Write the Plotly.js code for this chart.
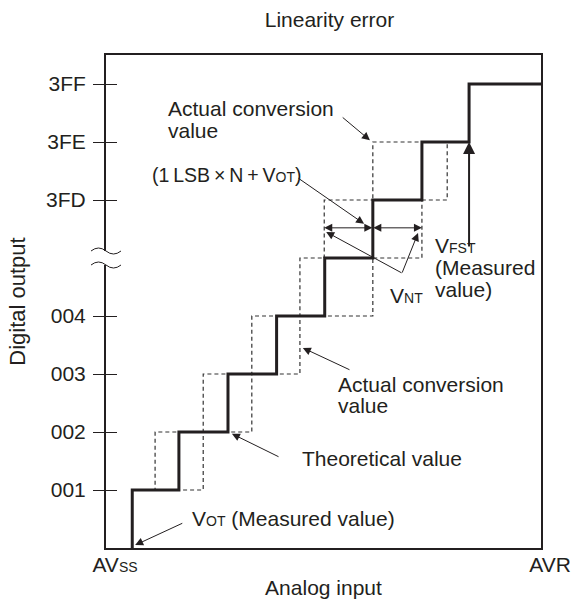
<!DOCTYPE html>
<html>
<head>
<meta charset="utf-8">
<script src="https://cdn.plot.ly/plotly-3.0.1.min.js"></script>
<style>html,body{margin:0;padding:0;background:#fff;}#chart{width:573px;height:605px;}</style>
</head>
<body>
<div id="chart"></div>
<script>
// ---- data ----
const xRange = [0, 8.95];            // AVss .. AVR (in LSB units)
const yRange = [0, 8.5];
const xTickVals = [0, 8.95];
const xTickText = ['AV<span style="font-size:14px">SS</span>', 'AVR'];
const yTickVals = [1, 2, 3, 4, 6, 7, 8];
const yTickText = ['001', '002', '003', '004', '3FD', '3FE', '3FF'];
const breakLevel = 5;
// theoretical staircase: transition points and output codes
const theoStepX = [0.54, 1.5, 2.51, 3.51, 4.5, 5.49, 6.5, 7.47];
const theoLevel = [0, 1, 2, 3, 4, 5, 6, 7, 8];
// actual conversion value boxes (dashed)
const actualLeft  = [1.01, 2.0, 3.0, 3.99, 4.49, 5.49];
const actualRight = [2.0, 3.0, 3.99, 5.49, 6.5, 7.02];
const actualLow   = [1, 2, 3, 4, 5, 6];

// ---- build traces ----
const theoX = theoStepX.concat([xRange[1]]);
const boxX = [], boxY = [];
actualLeft.forEach((L, i) => {
  const R = actualRight[i], lo = actualLow[i], hi = lo + 1;
  boxX.push(L, R, R, L, L, null);
  boxY.push(lo, lo, hi, hi, lo, null);
});

const ink = '#231f20';
const FONT = '"Liberation Sans", Arial, Helvetica, sans-serif';
const FS = 21;
const SM = 14;

const traces = [
  {x: boxX, y: boxY, mode: 'lines', line: {color: '#333', width: 1.2, dash: '4px,3px'},
   hoverinfo: 'skip', showlegend: false},
  {x: theoX, y: theoLevel, mode: 'lines', line: {color: ink, width: 3, shape: 'vh'},
   yaxis: 'y2', hoverinfo: 'skip', showlegend: false}
];

// ---- annotations ----
const txt = (text, x, y, size) => ({text, x, y, xref: 'x', yref: 'y', xanchor: 'left', yanchor: 'middle',
  showarrow: false, borderpad: 0, borderwidth: 0, font: {family: FONT, size: size || FS, color: ink}});
const sm = s => '<span style="font-size:' + SM + 'px">' + s + '</span>';
const arrow = (x, y, ax, ay, w, side) => ({text: '', x, y, ax, ay, xref: 'x', yref: 'y', axref: 'x', ayref: 'y',
  showarrow: true, arrowhead: 2, arrowsize: w > 1 ? 1.2 : 1.6, arrowwidth: w || 1, arrowcolor: ink,
  arrowside: side || 'end', standoff: 0, startstandoff: 0, borderpad: 0});

const ts = '\u2009';
const dblY = 5.52;
const annotations = [
  txt('Actual conversion', 1.28, 7.57),
  txt('value', 1.28, 7.19),
  txt('(1' + ts + 'LSB' + ts + '\u00d7' + ts + 'N' + ts + '+' + ts + 'V' + sm('OT') + ')', 0.95, 6.43, 19.5),
  txt('V' + sm('FST'), 6.77, 5.21),
  txt('(Measured', 6.77, 4.83),
  txt('value)', 6.77, 4.45),
  txt('V' + sm('NT'), 5.84, 4.36),
  txt('Actual conversion', 4.77, 2.82),
  txt('value', 4.77, 2.46),
  txt('Theoretical value', 4.03, 1.54),
  txt('V' + sm('OT') + ' (Measured value)', 1.77, 0.51),
  arrow(5.43, 7.03, 4.86, 7.43),
  arrow(5.31, 5.59, 3.95, 6.38),
  arrow(actualLeft[4], dblY, theoStepX[5], dblY, 1, 'end+start'),
  arrow(actualRight[4], dblY, theoStepX[5], dblY, 1, 'end+start'),
  arrow(4.53, 5.45, 6.09, 4.74),
  arrow(6.42, 5.43, 6.09, 4.74),
  arrow(theoStepX[7], 7.0, theoStepX[7], 5.19, 2),
  arrow(4.05, 3.45, 5.02, 3.07),
  arrow(2.59, 1.97, 3.56, 1.57),
  arrow(0.6, 0.05, 1.58, 0.43)
];

// axis break marks
const shapes = [
  {type: 'rect', xref: 'paper', xsizemode: 'pixel', xanchor: 0, x0: -4, x1: 4,
   yref: 'y', ysizemode: 'pixel', yanchor: breakLevel, y0: -7, y1: 7,
   fillcolor: '#fff', line: {width: 0}, layer: 'above'},
  {type: 'path', xref: 'paper', xsizemode: 'pixel', xanchor: 0,
   yref: 'y', ysizemode: 'pixel', yanchor: breakLevel,
   path: 'M-15,7 Q-7.5,13 0,7 T15,7', line: {color: ink, width: 1}, layer: 'above'},
  {type: 'path', xref: 'paper', xsizemode: 'pixel', xanchor: 0,
   yref: 'y', ysizemode: 'pixel', yanchor: breakLevel,
   path: 'M-15,-7 Q-7.5,-1 0,-7 T15,-7', line: {color: ink, width: 1}, layer: 'above'}
];

const layout = {
  width: 573, height: 605,
  margin: {l: 106, r: 32, t: 55, b: 57, pad: 0},
  paper_bgcolor: '#fff', plot_bgcolor: '#fff',
  font: {family: FONT, size: FS, color: ink},
  showlegend: false,
  title: {text: 'Linearity error', font: {family: FONT, size: FS, color: ink},
          x: 329.5 / 573, xref: 'container', xanchor: 'center',
          y: 1 - 20 / 605, yref: 'container', yanchor: 'middle'},
  xaxis: {range: xRange, showgrid: false, zeroline: false, showline: true, mirror: true,
          linecolor: ink, linewidth: 2, ticks: '', tickvals: xTickVals, ticktext: xTickText,
          ticklabelshift: 9, ticklabelstandoff: -3,
          tickfont: {family: FONT, size: FS, color: ink},
          title: {text: 'Analog input', font: {family: FONT, size: FS, color: ink}, standoff: 5},
          automargin: false, fixedrange: true},
  yaxis: {range: yRange, showgrid: false, zeroline: false, showline: true, mirror: true,
          linecolor: ink, linewidth: 2, ticks: 'outside', ticklen: 11, tickwidth: 1, tickcolor: ink,
          tickvals: yTickVals, ticktext: yTickText, ticklabelstandoff: 3,
          tickfont: {family: FONT, size: FS, color: ink},
          title: {text: 'Digital output', font: {family: FONT, size: 22, color: ink}, standoff: 14},
          automargin: false, fixedrange: true},
  yaxis2: {range: yRange, overlaying: 'y', side: 'left', showgrid: false, zeroline: false,
           showline: false, ticks: 'inside', ticklen: 11, tickwidth: 1, tickcolor: ink,
           tickvals: yTickVals, showticklabels: false, fixedrange: true},
  annotations, shapes
};

Plotly.newPlot('chart', traces, layout, {staticPlot: true, displayModeBar: false});
</script>
</body>
</html>
